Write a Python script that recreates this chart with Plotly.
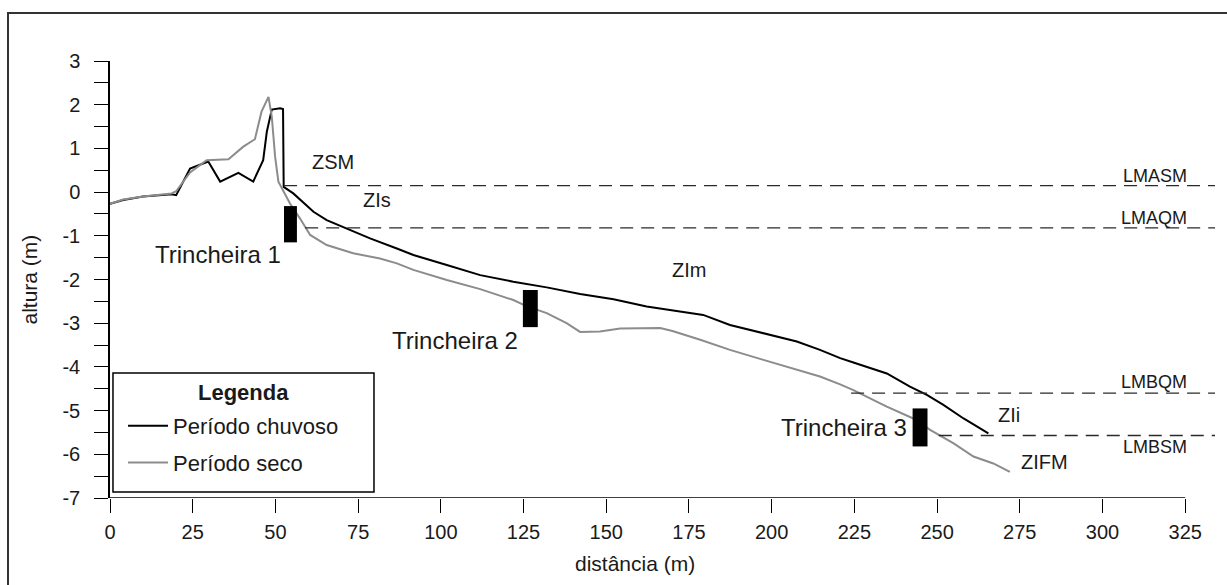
import plotly.graph_objects as go

# ---- data ----
chuv_x = [0, 4, 10, 18.6, 20, 24.2, 29.7, 33.3, 38.8, 43.3, 46.3, 47.4, 48.9, 51.4, 52.3, 52.5,
          55.4, 61.5, 65.5, 71.6, 78.6, 86.7, 91.7, 101.8, 111.9, 121.9, 132, 142.1, 152.2,
          162.2, 172.3, 179.3, 187.4, 197.5, 207.6, 214.6, 220.7, 224.7, 234.8, 241.8, 246.9,
          251.9, 258, 265.5]
chuv_y = [-0.27, -0.18, -0.1, -0.05, -0.07, 0.54, 0.7, 0.24, 0.44, 0.24, 0.73, 1.38, 1.89, 1.92,
          1.9, 0.12, -0.03, -0.45, -0.64, -0.83, -1.06, -1.29, -1.44, -1.67, -1.90, -2.05, -2.18,
          -2.33, -2.45, -2.62, -2.74, -2.81, -3.04, -3.23, -3.42, -3.61, -3.80, -3.90, -4.15,
          -4.45, -4.64, -4.87, -5.18, -5.52]

seco_x = [0, 4, 10, 18.6, 20, 24.2, 29.2, 35.8, 40.3, 43.8, 45.8, 47.9, 48.9, 49.9, 50.9, 54.4,
          57.4, 60.5, 65.5, 73.5, 81.6, 86.7, 91.7, 101.8, 111.9, 121.9, 125.9, 132, 138, 142.1,
          148.1, 154.2, 166.3, 170, 178.4, 187.4, 197.5, 207.6, 214.6, 220.7, 224.7, 234.8,
          242.8, 247.9, 255, 261, 267, 272]
seco_y = [-0.27, -0.17, -0.1, -0.03, 0.02, 0.45, 0.73, 0.75, 1.04, 1.21, 1.84, 2.18, 1.73, 0.81,
          0.24, -0.26, -0.6, -0.98, -1.21, -1.4, -1.52, -1.63, -1.78, -2.01, -2.22, -2.47, -2.61,
          -2.77, -3.0, -3.2, -3.19, -3.12, -3.11, -3.18, -3.38, -3.61, -3.84, -4.07, -4.22, -4.40,
          -4.53, -4.91, -5.18, -5.44, -5.75, -6.05, -6.21, -6.40]

# reference levels
lim_names = ["LMASM", "LMAQM", "LMBQM", "LMBSM"]
lim_y = [0.15, -0.82, -4.6, -5.57]
lim_x0 = [52.6, 59, 224, 250.5]
lim_x1 = [334, 334, 334, 334]
lim_label_y = [0.37, -0.6, -4.34, -5.83]

# trenches
trench_names = ["Trincheira 1", "Trincheira 2", "Trincheira 3"]
trench_x0 = [52.6, 124.8, 242.6]
trench_x1 = [56.5, 129.3, 247.1]
trench_y0 = [-1.15, -3.09, -5.82]
trench_y1 = [-0.32, -2.24, -4.95]
trench_label_x = [32.6, 104.3, 222.0]
trench_label_y = [-1.42, -3.39, -5.38]

# zones
zone_names = ["ZSM", "ZIs", "ZIm", "ZIi", "ZIFM"]
zone_x = [67.4, 80.7, 175, 271.6, 282.6]
zone_y = [0.69, -0.18, -1.79, -5.1, -6.17]

x_ticks = list(range(0, 326, 25))
y_ticks = list(range(-7, 4))

FONT = "Liberation Sans, Arial, sans-serif"
TXT = "#1a1a1a"

fig = go.Figure()

fig.add_trace(go.Scatter(x=chuv_x, y=chuv_y, mode="lines", name="Período chuvoso",
                         legendgroup="a", line=dict(color="black", width=2)))
fig.add_trace(go.Scatter(x=seco_x, y=seco_y, mode="lines", name="Período seco",
                         legendgroup="b", line=dict(color="#8c8c8c", width=2)))

for n, y, x0, x1 in zip(lim_names, lim_y, lim_x0, lim_x1):
    fig.add_trace(go.Scatter(x=[x0, x1], y=[y, y], mode="lines", showlegend=False,
                             line=dict(color="#2a2a2a", width=1.3, dash="13px,8px")))

for x0, x1, y0, y1 in zip(trench_x0, trench_x1, trench_y0, trench_y1):
    fig.add_shape(type="rect", xref="x", yref="y", x0=x0, x1=x1, y0=y0, y1=y1,
                  fillcolor="black", line=dict(width=0))

anns = []
for n, x, y in zip(trench_names, trench_label_x, trench_label_y):
    anns.append(dict(x=x, y=y, xref="x", yref="y", text=n, showarrow=False,
                     font=dict(size=24, color=TXT, family=FONT)))
for n, x, y in zip(zone_names, zone_x, zone_y):
    anns.append(dict(x=x, y=y, xref="x", yref="y", text=n, showarrow=False,
                     font=dict(size=20, color=TXT, family=FONT)))
for n, y in zip(lim_names, lim_label_y):
    anns.append(dict(x=326, y=y, xref="x", yref="y", text=n, showarrow=False,
                     xanchor="right", font=dict(size=18, color=TXT, family=FONT)))
anns.append(dict(x=0.475, y=-0.149, xref="paper", yref="paper", text="distância (m)",
                 xanchor="center", yanchor="middle",
                 showarrow=False, font=dict(size=21, color=TXT, family=FONT)))
anns.append(dict(x=-0.0724, y=0.5, xref="paper", yref="paper", text="altura (m)",
                 xanchor="center", yanchor="middle",
                 textangle=-90, showarrow=False, font=dict(size=21, color=TXT, family=FONT)))
# legend title
anns.append(dict(x=0.1212, y=0.2403, xref="paper", yref="paper", text="<b>Legenda</b>",
                 xanchor="center", yanchor="middle", showarrow=False,
                 font=dict(size=22, color=TXT, family=FONT)))
fig.update_layout(annotations=anns)

# x axis line (drawn only up to last tick)
fig.add_shape(type="line", xref="x", yref="y", x0=x_ticks[0], x1=x_ticks[-1], y0=-7, y1=-7,
              line=dict(color="black", width=1.5))
# outer frame
fig.add_shape(type="rect", xref="paper", yref="paper", x0=-0.0923, x1=1.1, y0=-0.4, y1=1.1098,
              line=dict(color="#333333", width=2), layer="below")
# legend frame
fig.add_shape(type="rect", xref="paper", yref="paper", x0=0.0027, x1=0.2389, y0=0.0137, y1=0.286,
              line=dict(color="black", width=1.5), fillcolor="white", layer="above")

fig.update_xaxes(range=[0, 334], tickmode="array", tickvals=x_ticks,
                 ticktext=[str(v) for v in x_ticks], ticks="outside", ticklen=14,
                 tickwidth=1.3, tickcolor="black", showline=False, showgrid=False,
                 zeroline=False, tickfont=dict(size=20, color=TXT, family=FONT),
                 ticklabelstandoff=2)
fig.update_yaxes(range=[-7, 3], tickmode="array", tickvals=y_ticks,
                 ticktext=[str(v) for v in y_ticks], ticks="outside", ticklen=14,
                 tickwidth=1.3, tickcolor="black", showline=True, linecolor="black",
                 linewidth=1.5, showgrid=False, zeroline=False,
                 tickfont=dict(size=20, color=TXT, family=FONT), ticklabelstandoff=10,
                 minor=dict(dtick=0.5, tick0=0, ticks="outside", ticklen=14,
                            tickcolor="black", tickwidth=1.3, showgrid=False))

fig.update_layout(
    width=1227, height=585,
    margin=dict(l=110, r=12, t=61, b=87),
    paper_bgcolor="white", plot_bgcolor="white",
    font=dict(family=FONT, color=TXT),
    showlegend=True,
    legend=dict(x=0.0118, y=0.2128, xanchor="left", yanchor="top",
                borderwidth=0, bgcolor="rgba(0,0,0,0)",
                font=dict(size=22, color=TXT, family=FONT),
                tracegroupgap=5, itemwidth=40),
)

fig.write_html("out.html")
